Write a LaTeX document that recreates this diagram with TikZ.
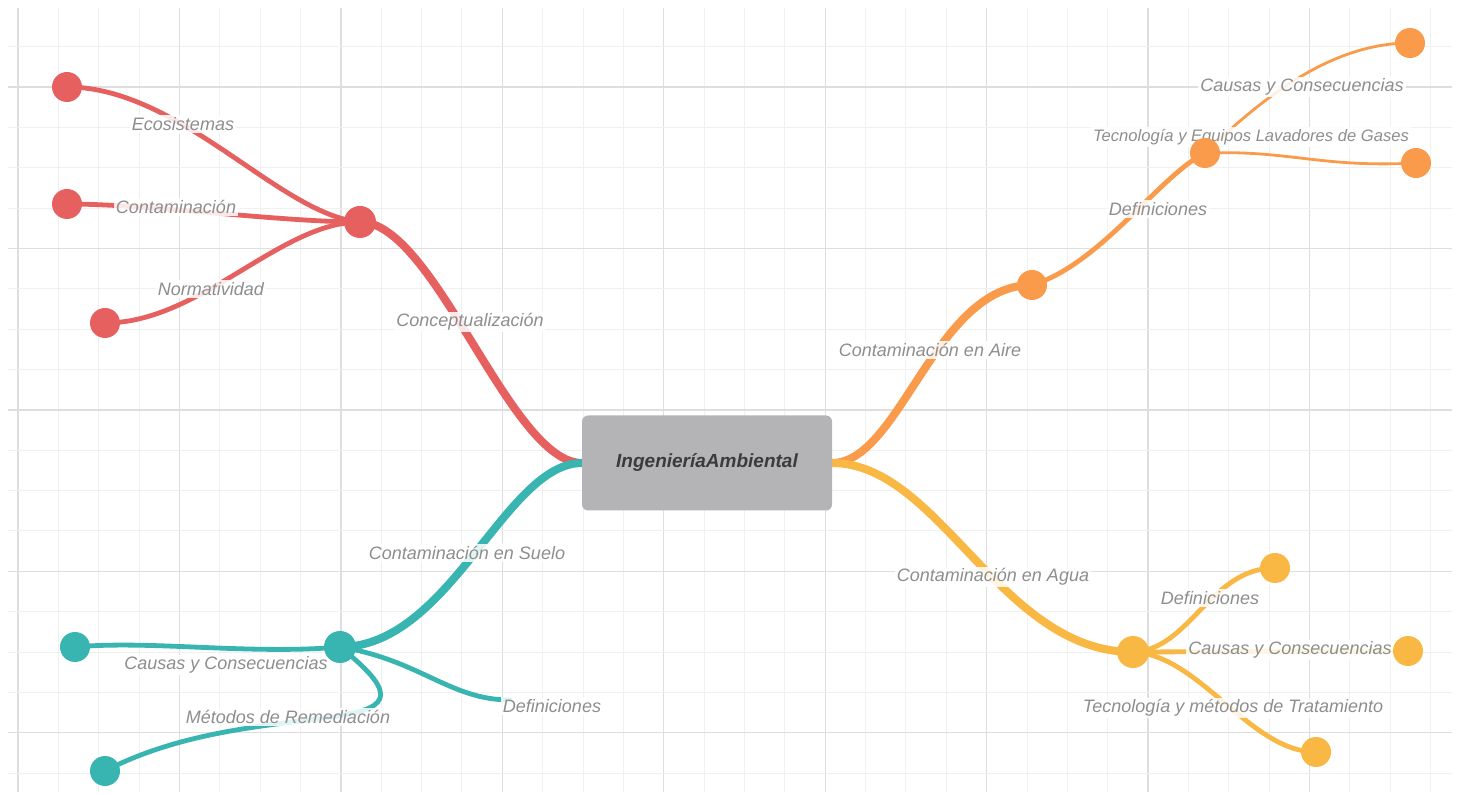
\documentclass[tikz,border=0pt]{standalone}
\usepackage{fontspec}
\setmainfont{Liberation Sans}
\definecolor{cred}{HTML}{E6605F}
\definecolor{cteal}{HTML}{38B5B0}
\definecolor{corange}{HTML}{F99B4A}
\definecolor{cyellow}{HTML}{F9B743}
\definecolor{labelgray}{HTML}{8E8E8E}
\definecolor{boxgray}{HTML}{B4B4B6}
\definecolor{boxtext}{HTML}{3B3B3B}
\definecolor{gridminor}{HTML}{F0F0F0}
\definecolor{gridmajor}{HTML}{DEDEDE}
\begin{document}
\begin{tikzpicture}[x=0.5pt,y=-0.5pt,
  lbl/.style={font=\itshape\fontsize{9}{10}\selectfont, text=labelgray, fill=white, fill opacity=0.85, text opacity=1, inner sep=1pt},
  dot/.style={circle, fill=#1, minimum size=15pt, inner sep=0pt},
  hub/.style={circle, fill=#1, minimum size=16pt, inner sep=0pt},
  mainline/.style={draw=#1, line width=4pt, line cap=round},
  subline/.style={draw=#1, line width=2.4pt, line cap=round},
  thinline/.style={draw=#1, line width=1.4pt, line cap=round},
  centerbox/.style={rectangle, rounded corners=3pt, fill=boxgray, minimum width=125pt, minimum height=47.5pt, font=\bfseries\itshape\fontsize{9.5}{11}\selectfont, text=boxtext}
]
\useasboundingbox[fill=white] (0,0) rectangle (1460,795);
% grid
\begin{scope}
\clip (8,8) rectangle (1452,792);
\foreach \k in {0,...,35} {
  \pgfmathtruncatemacro{\m}{mod(\k,4)}
  \ifnum\m=0
    \draw[gridmajor, line width=0.7pt] ({18+40.36*\k},8) -- ({18+40.36*\k},792);
  \else
    \draw[gridminor, line width=0.5pt] ({18+40.36*\k},8) -- ({18+40.36*\k},792);
  \fi
}
\foreach \j in {0,...,19} {
  \pgfmathtruncatemacro{\m}{mod(\j,4)}
  \ifnum\m=2
    \draw[gridmajor, line width=0.7pt] (8,{6.3+40.36*\j}) -- (1452,{6.3+40.36*\j});
  \else
    \draw[gridminor, line width=0.5pt] (8,{6.3+40.36*\j}) -- (1452,{6.3+40.36*\j});
  \fi
}
\end{scope}

% coordinates
\coordinate (L) at (582,463);
\coordinate (R) at (832,463);
\coordinate (c1) at (360,222);
\coordinate (e1) at (67,87);
\coordinate (e2) at (67,204);
\coordinate (e3) at (105,323);
\coordinate (t1) at (340,647);
\coordinate (s1) at (75,647);
\coordinate (s2) at (105,771);
\coordinate (s3) at (510,700);
\coordinate (o1) at (1032,285);
\coordinate (o2) at (1205,153);
\coordinate (a1) at (1410,43);
\coordinate (a2) at (1416,163);
\coordinate (y1) at (1133,652);
\coordinate (w1) at (1275,568);
\coordinate (w2) at (1408,651);
\coordinate (w3) at (1316,752);

% red branch
\draw[mainline=cred] (L) .. controls (510,463) and (435,222) .. (c1);
\draw[subline=cred] (c1) .. controls (280,215) and (180,87) .. (e1);
\draw[subline=cred] (c1) .. controls (280,222) and (150,204) .. (e2);
\draw[subline=cred] (c1) .. controls (280,222) and (200,323) .. (e3);
% teal branch
\draw[mainline=cteal] (L) .. controls (505,463) and (450,647) .. (t1);
\draw[subline=cteal] (t1) .. controls (250,655) and (150,640) .. (s1);
\draw[subline=cteal] (t1) .. controls (470,750) and (260,690) .. (s2);
\draw[subline=cteal] (t1) .. controls (420,660) and (450,700) .. (s3);
% orange branch
\draw[mainline=corange] (R) .. controls (900,463) and (935,285) .. (o1);
\draw[subline=corange] (o1) .. controls (1100,265) and (1160,175) .. (o2);
\draw[thinline=corange] (o2) .. controls (1260,100) and (1330,43) .. (a1);
\draw[thinline=corange] (o2) .. controls (1290,150) and (1320,168) .. (a2);
% yellow branch
\draw[mainline=cyellow] (R) .. controls (940,463) and (1000,652) .. (y1);
\draw[subline=cyellow] (y1) .. controls (1190,650) and (1210,568) .. (w1);
\draw[subline=cyellow] (y1) -- (w2);
\draw[subline=cyellow] (y1) .. controls (1200,655) and (1250,752) .. (w3);

% labels
\node[lbl] (lconc) at (470,322) {Conceptualización};
\node[lbl] (leco) at (183,124) {Ecosistemas};
\node[lbl] (lcont) at (176,207) {Contaminación};
\node[lbl] (lnorm) at (211,289) {Normatividad};
\node[lbl] (lsuelo) at (467,553) {Contaminación en Suelo};
\node[lbl] (lcaus1) at (226,665) {Causas y Consecuencias};
\node[lbl] (lmet) at (288,717) {Métodos de Remediación};
\node[lbl] (ldef1) at (552,706) {Definiciones};
\node[lbl] (laire) at (930,350) {Contaminación en Aire};
\node[lbl] (ldef2) at (1158,209) {Definiciones};
\node[lbl] (lcaus2) at (1302,87) {Causas y Consecuencias};
\node[lbl, font=\itshape\fontsize{8.3}{10}\selectfont] (ltec1) at (1251,137) {Tecnología y Equipos Lavadores de Gases};
\node[lbl] (lagua) at (993,577) {Contaminación en Agua};
\node[lbl] (ldef3) at (1210,598) {Definiciones};
\node[lbl] (lcaus3) at (1290,650) {Causas y Consecuencias};
\node[lbl] (ltec2) at (1233,708) {Tecnología y métodos de Tratamiento};

% dots
\node[hub=cred] at (c1) {};
\node[dot=cred] at (e1) {};
\node[dot=cred] at (e2) {};
\node[dot=cred] at (e3) {};
\node[hub=cteal] at (t1) {};
\node[dot=cteal] at (s1) {};
\node[dot=cteal] at (s2) {};
\node[dot=corange] at (o1) {};
\node[dot=corange] at (o2) {};
\node[dot=corange] at (a1) {};
\node[dot=corange] at (a2) {};
\node[hub=cyellow] at (y1) {};
\node[dot=cyellow] at (w1) {};
\node[dot=cyellow] at (w2) {};
\node[dot=cyellow] at (w3) {};

% center
\node[centerbox] (center) at (707,463) {IngenieríaAmbiental};
\end{tikzpicture}
\end{document}
